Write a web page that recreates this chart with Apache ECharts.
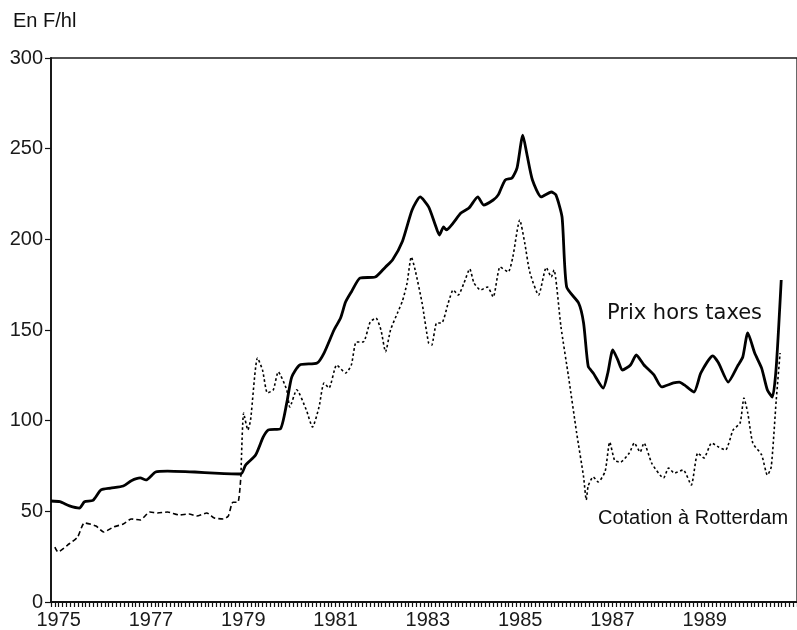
<!DOCTYPE html>
<html>
<head>
<meta charset="utf-8">
<script src="https://cdn.jsdelivr.net/npm/echarts@6/dist/echarts.min.js"></script>
<style>
  html, body { margin: 0; padding: 0; background: #fff; }
  #main { width: 797px; height: 630px; }
</style>
</head>
<body>
<div id="main"></div>
<script>
// mois depuis janvier 1975
var prixMonths = [-2, 0.3, 2.8, 5.4, 6.7, 8.9, 11, 13.5, 16.8, 18.9, 21.2, 22.7, 25.2, 28.3, 35.4, 40.5, 47.4, 48.6, 51.2, 53.2, 54.5, 57.6, 59.3, 60.6, 62.7, 67.2, 69, 71.6, 73.3, 74.6, 76.1, 78.4, 82.3, 85, 86.8, 89.4, 91.9, 94, 96.2, 97.8, 99, 100.1, 100.8, 104.6, 106.7, 109, 110.5, 113, 114.3, 116.1, 117.9, 119.2, 120.7, 121.7, 123.2, 125.5, 128.1, 129.3, 130.9, 132.1, 135.2, 136.5, 137.7, 139, 141.6, 142.8, 144.1, 145.4, 146.6, 148.7, 150.2, 152.2, 154.8, 156.8, 159.9, 161.4, 162.7, 165.2, 167, 170.1, 171.6, 174.1, 176.7, 177.9, 179.2, 181, 182.8, 184.3, 185.6, 186.6, 187.9];
var prixValues = [55.7, 55.3, 53, 51.8, 55.3, 56, 61.8, 62.8, 64, 66.9, 68.4, 67.3, 71.7, 72.2, 71.7, 71.1, 70.6, 75.5, 81, 91, 94.9, 95.4, 109.7, 124, 130.7, 131.8, 137.3, 150, 156.6, 165.4, 171, 178.7, 179.2, 184.8, 188.6, 199, 216.2, 223.4, 217.9, 208.8, 202.4, 206.8, 205.2, 214.5, 217.3, 223.4, 218.9, 221.7, 224.5, 232.7, 233.8, 239.4, 257.5, 247.6, 232.7, 223.4, 226.1, 224.5, 212.3, 173.7, 164.9, 153.9, 130, 126.3, 118, 126.3, 139, 133.5, 127.9, 130.7, 136.2, 130.7, 125.2, 118.6, 120.8, 121.3, 119.7, 115.8, 126.3, 135.7, 131.8, 121.3, 130.7, 135.1, 148.4, 137.3, 129, 116.9, 113, 129.6, 177.6];

var cotMonths = [-1, -0.2, 2.3, 4.9, 6.7, 9.7, 11.7, 14.3, 16.8, 18.9, 21.2, 23.7, 25.7, 28.3, 31.3, 33.9, 35.9, 38.5, 40.5, 42.8, 44.1, 45.3, 46.6, 47.4, 48.1, 49.2, 49.9, 51.7, 53, 54.3, 55.8, 57.1, 59.3, 60.1, 61.9, 64.4, 66, 67.7, 69, 70.3, 72.3, 74.6, 76.1, 77.4, 79.2, 81, 82.5, 83.8, 85, 86.3, 88.1, 89.4, 90.6, 91.7, 92.7, 94.5, 96.2, 97, 98.3, 99.6, 101.3, 102.6, 103.9, 105.4, 106.9, 108, 109.7, 111.5, 113, 114.8, 116.9, 118.1, 119.9, 121.2, 122.5, 124.8, 126.8, 128.1, 128.8, 130.6, 132.6, 134.7, 136.5, 137.2, 137.7, 139, 140.3, 142.1, 143.3, 144.6, 146.1, 148.4, 149.7, 151.2, 152.2, 154.3, 157.3, 158.6, 160.1, 162.4, 164.5, 166.2, 167.8, 169.8, 171.6, 173.4, 175.4, 177.2, 178.2, 179.2, 180.5, 182.8, 184.3, 185.3, 186.6, 187.6];
var cotValues = [30.3, 27.6, 31.4, 35.8, 43.6, 41.9, 38.6, 41.4, 43, 45.8, 45.2, 49.6, 49.1, 49.6, 48, 48.5, 47.4, 49.1, 46.3, 45.8, 47.4, 55, 55, 70, 104.2, 94.9, 100.4, 134.6, 128, 115.3, 117, 126.9, 117, 107.5, 117, 105.9, 96.5, 107.5, 120.8, 118, 130.7, 126.3, 130.7, 143.4, 143.4, 154.4, 156.6, 150, 138, 150, 159.4, 166, 175.9, 190.3, 183.1, 164.9, 142.8, 141.7, 153.9, 153.9, 164.9, 172.1, 169.3, 175.9, 183.7, 175.9, 172.1, 173.7, 168.2, 184.8, 182, 190.3, 210.7, 198, 182, 169.3, 184.5, 179.2, 183.1, 152, 124, 93.2, 69, 56.3, 64, 69, 66.2, 72, 88.2, 78, 77.2, 82.2, 87.7, 82.7, 87.7, 76.2, 68.4, 73.9, 71.1, 72.8, 64.5, 82.2, 79.4, 87.7, 85.5, 83.8, 94.9, 98.7, 112.5, 104.2, 87.7, 81.1, 70, 74.5, 111.4, 137.3];

var yTicks = [0, 50, 100, 150, 200, 250, 300];
var firstYear = 1975;
// le trait de la cotation passe du tireté au pointillé début 1979
var styleSwitchMonth = 47.4;

function zip(a, b, from, to) {
  var out = [];
  for (var i = 0; i < a.length; i++) {
    if (a[i] >= from && a[i] <= to) out.push([a[i], b[i]]);
  }
  return out;
}

var chart = echarts.init(document.getElementById('main'), null, { renderer: 'canvas' });
var font = '"Liberation Sans", Arial, Helvetica, sans-serif';

var option = {
  backgroundColor: '#ffffff',
  animation: false,
  grid: {
    left: 51,
    top: 58,
    height: 544,
    width: 758,
    show: true,
    borderColor: '#1a1a1a',
    borderWidth: 1.3,
    backgroundColor: 'transparent'
  },
  xAxis: {
    type: 'value',
    min: -2,
    max: 192,
    interval: 2,
    axisLine: { show: true, onZero: false, lineStyle: { color: '#111', width: 1.8 } },
    axisTick: { show: true, inside: false, length: 5, lineStyle: { color: '#111', width: 1.2 } },
    minorTick: { show: true, splitNumber: 2, length: 5, lineStyle: { color: '#111', width: 1.2 } },
    splitLine: { show: false },
    axisLabel: {
      margin: 8,
      color: '#1a1a1a',
      fontFamily: font,
      fontSize: 20,
      showMaxLabel: false,
      formatter: function (v) {
        return (v >= 0 && v < 190 && v % 24 === 0) ? String(firstYear + v / 12) : '';
      }
    }
  },
  yAxis: {
    type: 'value',
    min: yTicks[0],
    max: yTicks[yTicks.length - 1],
    interval: 50,
    axisLine: { show: true, onZero: false, lineStyle: { color: '#111', width: 1.8 } },
    axisTick: { show: true, length: 6, lineStyle: { color: '#111', width: 1.2 } },
    splitLine: { show: false },
    axisLabel: {
      margin: 8,
      color: '#1a1a1a',
      fontFamily: font,
      fontSize: 20
    }
  },
  series: [
    {
      name: 'Prix hors taxes',
      type: 'line',
      data: zip(prixMonths, prixValues, -Infinity, Infinity),
      showSymbol: false,
      smooth: 0.2,
      clip: true,
      lineStyle: { color: '#000', width: 2.8, join: 'round' },
      z: 3
    },
    {
      name: 'Cotation à Rotterdam',
      type: 'line',
      data: zip(cotMonths, cotValues, -Infinity, styleSwitchMonth),
      showSymbol: false,
      smooth: 0.2,
      clip: true,
      lineStyle: { color: '#000', width: 1.6, type: [5, 3] },
      z: 2
    },
    {
      name: 'Cotation à Rotterdam',
      type: 'line',
      data: zip(cotMonths, cotValues, styleSwitchMonth, Infinity),
      showSymbol: false,
      smooth: 0.2,
      clip: true,
      lineStyle: { color: '#000', width: 1.6, type: [2.5, 2.5] },
      z: 2
    }
  ],
  graphic: [
    {
      type: 'text',
      left: 13,
      top: 11,
      style: { text: 'En F/hl', fill: '#111', font: '20px ' + font }
    },
    {
      type: 'text',
      x: 607,
      y: 314,
      style: {
        text: 'Prix hors taxes',
        fill: '#111',
        font: '21px "DejaVu Sans", sans-serif',
        verticalAlign: 'middle'
      }
    },
    {
      type: 'text',
      x: 598,
      y: 518,
      style: {
        text: 'Cotation à Rotterdam',
        fill: '#111',
        font: '20px ' + font,
        verticalAlign: 'middle'
      }
    }
  ]
};

chart.setOption(option);
</script>
</body>
</html>
